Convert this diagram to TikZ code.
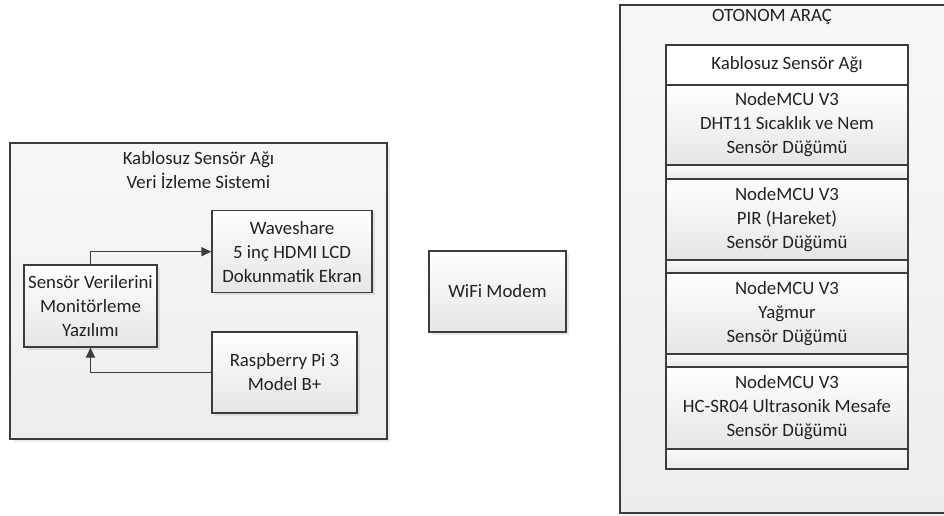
\documentclass[tikz,border=0pt]{standalone}
\usepackage{fontspec}
\setmainfont{Carlito}
\usetikzlibrary{shadows,arrows.meta}
\definecolor{ln}{HTML}{3C3C3C}
\definecolor{tx}{HTML}{222222}
\begin{document}
\begin{tikzpicture}[x=1pt,y=-1pt,
  txt/.style={align=center, text=tx, font=\fontsize{18.8}{24}\selectfont, inner sep=0pt},
  box/.style={txt, draw=ln, line width=1.2pt, top color=white, bottom color=black!10,
    drop shadow={opacity=0.18,shadow xshift=2.5pt,shadow yshift=-2.5pt}},
  panel/.style={draw=ln, line width=1.2pt, top color=black!3, bottom color=black!7,
    drop shadow={opacity=0.15,shadow xshift=2.5pt,shadow yshift=-2.5pt}, inner sep=0pt},
  row/.style={txt, draw=ln, line width=1.2pt, top color=white, bottom color=black!10,
    minimum width=242pt},
  strip/.style={draw=ln, line width=1.2pt, top color=black!2, bottom color=black!8,
    minimum width=242pt, inner sep=0pt},
  conn/.style={draw=ln, line width=1.2pt, -{Triangle[length=10pt,width=9pt]}}]
\useasboundingbox (0,0) rectangle (944,516);
\fill[white] (0,0) rectangle (944,516);

% left panel
\node[panel, minimum width=377pt, minimum height=296pt] (lp) at (198.5,291) {};
\node[txt] (lt) at (198.5,170) {Kablosuz Sensör Ağı\\Veri İzleme Sistemi};
\node[box, minimum width=160pt, minimum height=82pt] (ws) at (292,251.7)
  {Waveshare\\5 inç HDMI LCD\\Dokunmatik Ekran};
\node[box, minimum width=133pt, minimum height=82pt] (sv) at (90.5,306)
  {Sensör Verilerini\\Monitörleme\\Yazılımı};
\node[box, minimum width=145pt, minimum height=81pt] (rp) at (284.5,372.5)
  {Raspberry Pi 3\\Model B+};
\draw[conn] (sv.north) |- (ws.west);
\draw[conn] (rp.west) -| (sv.south);

% wifi
\node[box, minimum width=137pt, minimum height=81pt] (wf) at (497.5,291.5) {WiFi Modem};

% right panel
\begin{scope}
\clip (0,0) rectangle (944,516);
\node[panel, minimum width=344pt, minimum height=508pt] (ot) at (792,259) {};
\end{scope}
\node[txt] (otl) at (772,17) {OTONOM ARAÇ};
\node[row, minimum height=40pt, top color=white, bottom color=white] (hd) at (787,65) {Kablosuz Sensör Ağı};
\node[row, minimum height=80pt] (n1) at (787,125) {NodeMCU V3\\DHT11 Sıcaklık ve Nem\\Sensör Düğümü};
\node[strip, minimum height=14pt] (s1) at (787,172) {};
\node[row, minimum height=81pt] (n2) at (787,219.5) {NodeMCU V3\\PIR (Hareket)\\Sensör Düğümü};
\node[strip, minimum height=13pt] (s2) at (787,266.5) {};
\node[row, minimum height=81pt] (n3) at (787,313.5) {NodeMCU V3\\Yağmur\\Sensör Düğümü};
\node[strip, minimum height=13pt] (s3) at (787,360.5) {};
\node[row, minimum height=82pt] (n4) at (787,408) {NodeMCU V3\\HC-SR04 Ultrasonik Mesafe\\Sensör Düğümü};
\node[strip, minimum height=20pt] (s4) at (787,459) {};
\end{tikzpicture}
\end{document}
